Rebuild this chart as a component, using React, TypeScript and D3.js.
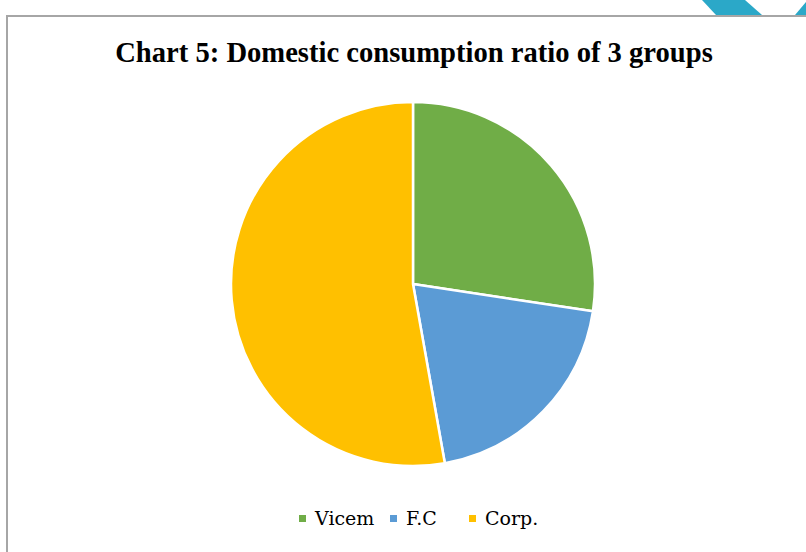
import React from 'react';
import * as d3 from 'd3';

const GROUPS = ['Vicem', 'F.C', 'Corp.'];
const SHARES = [27.4, 19.8, 52.8];
const COLORS = ['#70ad47', '#5b9bd5', '#ffc000'];
const TITLE = 'Chart 5: Domestic consumption ratio of 3 groups';

const W = 806, H = 552;
const CX = 413, CY = 284, R = 182;
const SERIF = '"Liberation Serif", "DejaVu Serif", serif';

export default function App() {
  const data = GROUPS.map((g, i) => ({ g, v: SHARES[i], c: COLORS[i] }));
  const pie = d3.pie<any>().value(d => d.v).sort(null);
  const arc = d3.arc<any>().innerRadius(0).outerRadius(R);
  // legend slots, left edge of each swatch
  const legendX = d3.scaleOrdinal<string, number>().domain(GROUPS).range([299, 390, 469]);

  return (
    <svg width={W} height={H} style={{ position: 'absolute', left: 0, top: 0, background: '#fff' }}>
      {/* corner decoration */}
      <polygon points="702,0 745,0 762,15 716,15" fill="#2ba8c8" />
      <polygon points="806,2 806,15 795,15" fill="#2ba8c8" />
      {/* frame */}
      <line x1={7} y1={15} x2={7} y2={H} stroke="#a6a6a6" strokeWidth={2} />
      <line x1={6} y1={16} x2={W} y2={16} stroke="#a6a6a6" strokeWidth={2} />

      <text x={414} y={62} textAnchor="middle" fontFamily={SERIF} fontWeight="bold" fontSize={28.6} fill="#000">
        {TITLE}
      </text>

      <g transform={`translate(${CX},${CY})`}>
        {pie(data).map((s, i) => (
          <path key={i} d={arc(s) || ''} fill={s.data.c} stroke="#fff" strokeWidth={2.5} strokeLinejoin="round" />
        ))}
      </g>

      <g>
        {data.map(d => {
          const x = legendX(d.g);
          return (
            <g key={d.g}>
              <rect x={x} y={515} width={7} height={7} fill={d.c} />
              <text x={x + 16} y={525} fontFamily='"DejaVu Serif", serif' fontSize={19} fill="#000">{d.g}</text>
            </g>
          );
        })}
      </g>
    </svg>
  );
}
